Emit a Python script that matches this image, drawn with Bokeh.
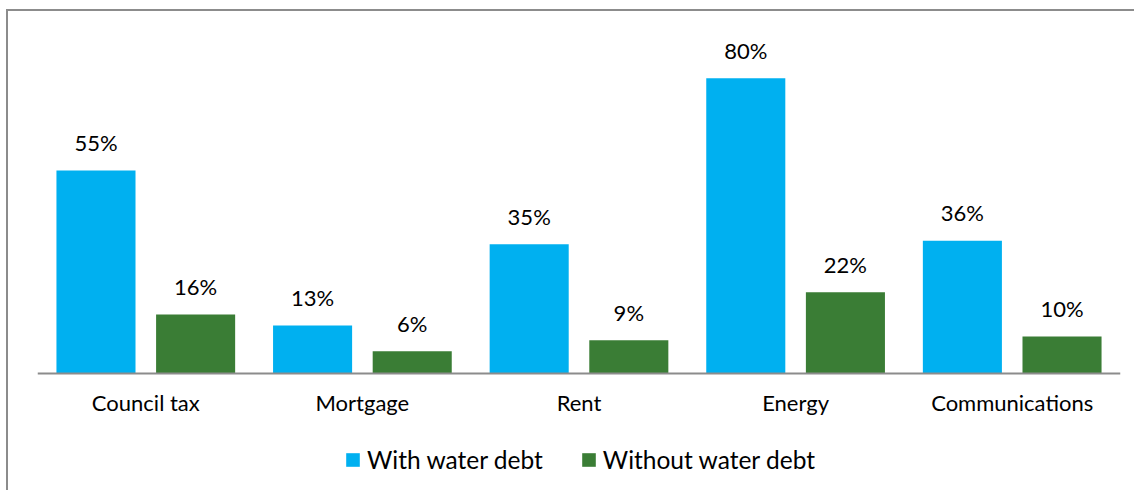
from bokeh.plotting import figure
from bokeh.models import ColumnDataSource, Legend, LegendItem, FactorRange
from bokeh.transform import dodge
from bokeh.core.properties import value
from bokeh.embed import file_html
from bokeh.resources import INLINE

categories = ["Council tax", "Mortgage", "Rent", "Energy", "Communications"]
with_debt = [55, 13, 35, 80, 36]
without_debt = [16, 6, 9, 22, 10]
series_names = ["With water debt", "Without water debt"]

FONT = "Lato"
BLUE = "#00B0F0"
GREEN = "#3A7D35"

src = ColumnDataSource(dict(
    cat=categories, w=with_debt, wo=without_debt,
    wl=[f"{v}%" for v in with_debt], wol=[f"{v}%" for v in without_debt]))

p = figure(x_range=FactorRange(*categories), y_range=(-32.25, 98.1),
           width=1128, height=481, output_backend="svg", toolbar_location=None,
           y_axis_location=None,
           min_border_left=29, min_border_right=16, min_border_top=0, min_border_bottom=0,
           styles={"border-top": "2px solid #8c8c8c", "border-left": "2px solid #8c8c8c",
                   "margin-left": "6px", "margin-top": "9px"})

off = 0.23
bw = 0.365
r1 = p.vbar(x=dodge("cat", -off, range=p.x_range), top="w", width=bw, source=src,
            fill_color=BLUE, line_color=None)
r2 = p.vbar(x=dodge("cat", off, range=p.x_range), top="wo", width=bw, source=src,
            fill_color=GREEN, line_color=None)

for col, lab, o in (("w", "wl", -off), ("wo", "wol", off)):
    p.text(x=dodge("cat", o, range=p.x_range), y=col, text=lab, source=src,
           text_align="center", text_baseline="alphabetic", y_offset=-28,
           text_font=value(FONT), text_font_size="22px", text_color="#000000")

p.xgrid.visible = False
p.ygrid.visible = False
p.outline_line_color = None

ax = p.xaxis[0]
ax.fixed_location = 0
ax.axis_line_color = "#8c8c8c"
ax.axis_line_width = 2
ax.major_tick_line_color = None
ax.minor_tick_line_color = None
ax.major_label_text_font = FONT
ax.major_label_text_font_size = "22px"
ax.major_label_text_color = "#000000"
ax.major_label_standoff = 10

legend = Legend(items=[LegendItem(label=series_names[0], renderers=[r1]),
                       LegendItem(label=series_names[1], renderers=[r2])],
                orientation="horizontal", location=(307, 18),
                border_line_color=None, background_fill_alpha=0,
                label_text_font=FONT, label_text_font_size="24.5px", label_text_color="#000000",
                glyph_width=17, glyph_height=17, label_standoff=6, spacing=37,
                margin=0, padding=0)
p.add_layout(legend, "center")

open("out.html", "w").write(file_html(p, INLINE))
